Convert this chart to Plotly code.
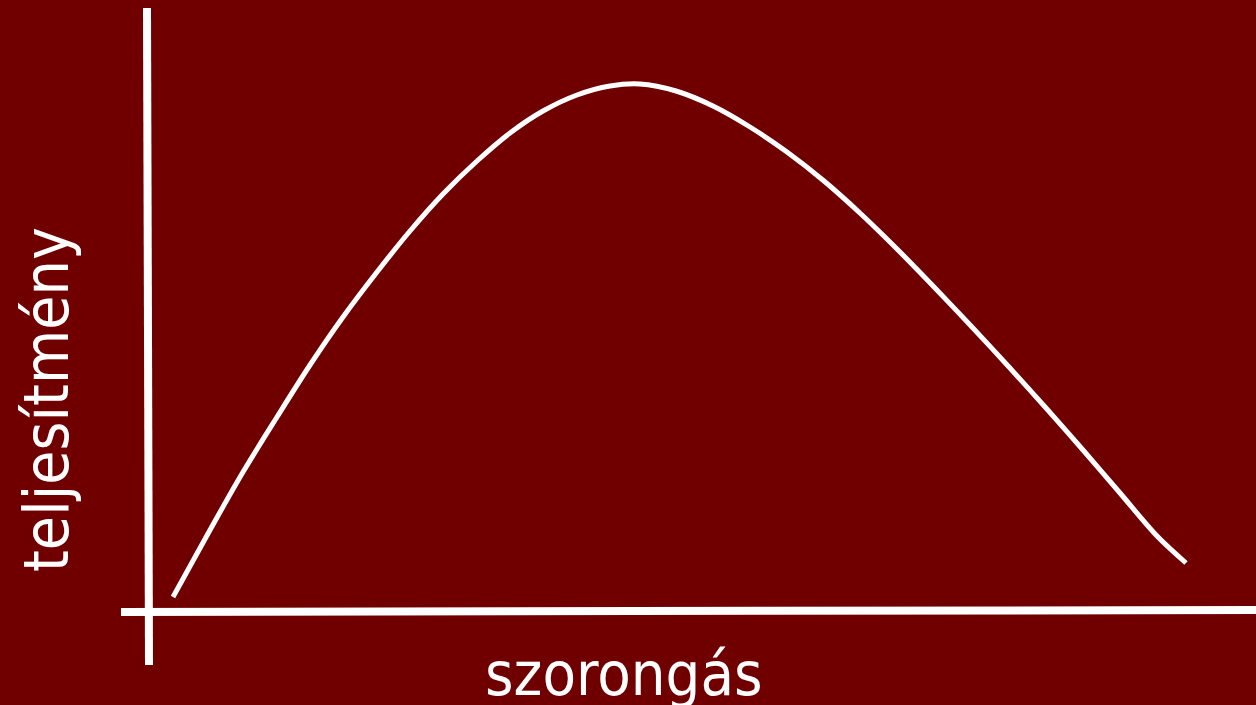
import plotly.graph_objects as go

# Yerkes-Dodson style curve (origin at the axis crossing)
anxiety = [24, 61, 94, 128, 161, 194, 228, 261, 294, 328, 361, 394, 428, 461, 491,
           527, 564, 601, 638, 675, 712, 749, 786, 823, 860, 897, 934, 971, 1008, 1037]
performance = [14, 81, 139, 194, 246, 294, 339, 380, 417, 450, 478, 500, 516, 525, 527,
               520, 505, 484, 459, 430, 397, 361, 323, 284, 244, 203, 161, 118, 75, 48]

x_label = "szorongás"
y_label = "teljesítmény"

bg = "#700000"
font = "DejaVu Sans Condensed, DejaVu Sans, sans-serif"

fig = go.Figure()

fig.add_trace(go.Scatter(
    x=anxiety,
    y=performance,
    mode="lines",
    line=dict(color="white", width=5, shape="spline", smoothing=0.9),
    hoverinfo="skip",
))

# hand drawn looking axes
fig.add_shape(type="line", x0=-2, y0=603, x1=0, y1=-54,
              line=dict(color="white", width=8))
fig.add_shape(type="line", x0=-28, y0=-1, x1=1107, y1=1,
              line=dict(color="white", width=8))

fig.add_annotation(x=475, y=-62, text=x_label, showarrow=False,
                   font=dict(family=font, size=61, color="white"),
                   xanchor="center", yanchor="middle")
fig.add_annotation(x=-103, y=211, text=y_label, showarrow=False, textangle=-90,
                   font=dict(family=font, size=62, color="white"),
                   xanchor="center", yanchor="middle")

fig.update_layout(
    width=1256,
    height=705,
    margin=dict(l=0, r=0, t=0, b=0),
    paper_bgcolor=bg,
    plot_bgcolor=bg,
    showlegend=False,
    xaxis=dict(range=[-149, 1107], visible=False, fixedrange=True),
    yaxis=dict(range=[-94, 611], visible=False, fixedrange=True),
)

fig.write_html(
    "out.html",
    config={"displayModeBar": False},
    post_script="document.body.style.margin='0';document.body.style.background='#700000';",
)
